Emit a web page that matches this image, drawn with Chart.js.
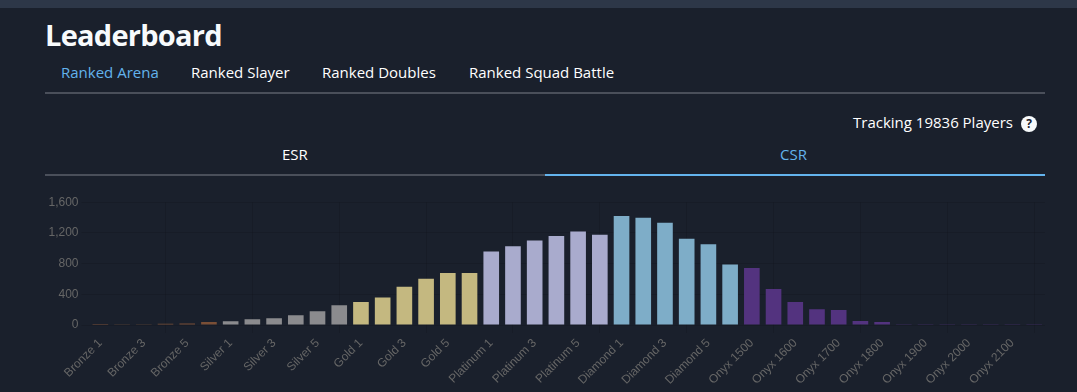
<!DOCTYPE html>
<html lang="en">
<head>
<meta charset="UTF-8">
<title>Leaderboard</title>
<script src="https://cdn.jsdelivr.net/npm/chart.js"></script>
<style>
  * { box-sizing: border-box; }
  html, body { margin: 0; width: 1077px; height: 392px; overflow: hidden; background: #1a202c; color: #fff; font-family: "Open Sans", "Noto Sans", sans-serif; }
  .topbar { position: absolute; left: 0; top: 0; width: 1077px; height: 8px; background: #2d3748; }
  h1 { position: absolute; left: 45px; top: 15px; margin: 0; font-size: 29px; line-height: 40px; font-weight: 700; color: #f7fafc; letter-spacing: -0.75px; }
  .tab { position: absolute; font-size: 15px; line-height: 20px; white-space: nowrap; }
  .active { color: #63b3ed; }
  .rule { position: absolute; height: 2px; }
  .help { position: absolute; left: 1021px; top: 116px; width: 16px; height: 16px; border-radius: 50%; background: #f7fafc; color: #1a202c; font: 700 12px/16px "Open Sans", sans-serif; text-align: center; }
  #wrap { position: absolute; left: 45px; top: 192px; width: 1000px; height: 200px; }
</style>
</head>
<body>
  <div class="topbar"></div>
  <h1>Leaderboard</h1>
  <div class="tab active" style="left:61px;top:62px">Ranked Arena</div>
  <div class="tab" style="left:191px;top:62px">Ranked Slayer</div>
  <div class="tab" style="left:322px;top:62px">Ranked Doubles</div>
  <div class="tab" style="left:469px;top:62px">Ranked Squad Battle</div>
  <div class="rule" style="left:45px;top:92px;width:1000px;background:#4a4f5a"></div>
  <div class="tab" style="left:853px;top:112px">Tracking 19836 Players</div>
  <div class="help">?</div>
  <div class="tab" style="left:282px;top:144px">ESR</div>
  <div class="tab active" style="left:780px;top:144px">CSR</div>
  <div class="rule" style="left:45px;top:174px;width:500px;background:#4a4f5a"></div>
  <div class="rule" style="left:545px;top:174px;width:500px;background:#63b3ed"></div>
  <div id="wrap"><canvas id="myChartCanvas"></canvas></div>

<script>
  var categories = [
    "Bronze 1", "Bronze 2", "Bronze 3", "Bronze 4", "Bronze 5", "Bronze 6",
    "Silver 1", "Silver 2", "Silver 3", "Silver 4", "Silver 5", "Silver 6",
    "Gold 1", "Gold 2", "Gold 3", "Gold 4", "Gold 5", "Gold 6",
    "Platinum 1", "Platinum 2", "Platinum 3", "Platinum 4", "Platinum 5", "Platinum 6",
    "Diamond 1", "Diamond 2", "Diamond 3", "Diamond 4", "Diamond 5", "Diamond 6",
    "Onyx 1500", "Onyx 1550", "Onyx 1600", "Onyx 1650", "Onyx 1700", "Onyx 1750", "Onyx 1800",
    "Onyx 1850", "Onyx 1900", "Onyx 1950", "Onyx 2000", "Onyx 2050", "Onyx 2100", "Onyx 2150"
  ];
  var players = [
    1, 2, 10, 15, 20, 40,
    48, 74, 87, 127, 180, 258,
    300, 358, 498, 603, 677, 677,
    957, 1027, 1101, 1158, 1219, 1175,
    1420, 1398, 1333, 1123, 1053, 787,
    743, 468, 300, 205, 197, 52, 40,
    9, 3, 4, 3, 3, 2, 3
  ];
  var yTicks = [0, 400, 800, 1200, 1600];

  // cor de cada barra vem do nome do rank
  var rankColors = { Bronze: "#7a4f36", Silver: "#8b8b8e", Gold: "#c4b880", Platinum: "#a9abcd", Diamond: "#7eadc8", Onyx: "#53337f" };
  var barColors = categories.map(function (c) { return rankColors[c.split(" ")[0]]; });

  new Chart(document.getElementById("myChartCanvas"), {
    type: "bar",
    data: {
      labels: categories,
      datasets: [{ label: "Players", data: players, backgroundColor: barColors }]
    },
    options: {
      responsive: true,
      maintainAspectRatio: false,
      animation: false,
      plugins: { legend: { display: false }, tooltip: { enabled: false } },
      scales: {
        x: {
          grid: { color: "rgba(0,0,0,0.1)" },
          border: { display: false },
          afterFit: function (s) { s.height = 67; },
          ticks: {
            autoSkip: true,
            maxTicksLimit: 22,
            maxRotation: 45,
            minRotation: 45,
            color: "#666",
            font: { size: 12, family: "'Liberation Sans', Arial, sans-serif" }
          }
        },
        y: {
          min: 0,
          max: 1600,
          grid: { color: "rgba(0,0,0,0.1)" },
          border: { display: false },
          afterFit: function (s) { s.width = 44.5; },
          afterBuildTicks: function (s) { s.ticks = yTicks.map(function (v) { return { value: v }; }); },
          ticks: {
            color: "#666",
            font: { size: 12, family: "'Liberation Sans', Arial, sans-serif" },
            callback: function (v) { return v.toLocaleString("en-US"); }
          }
        }
      }
    }
  });
</script>
</body>
</html>
